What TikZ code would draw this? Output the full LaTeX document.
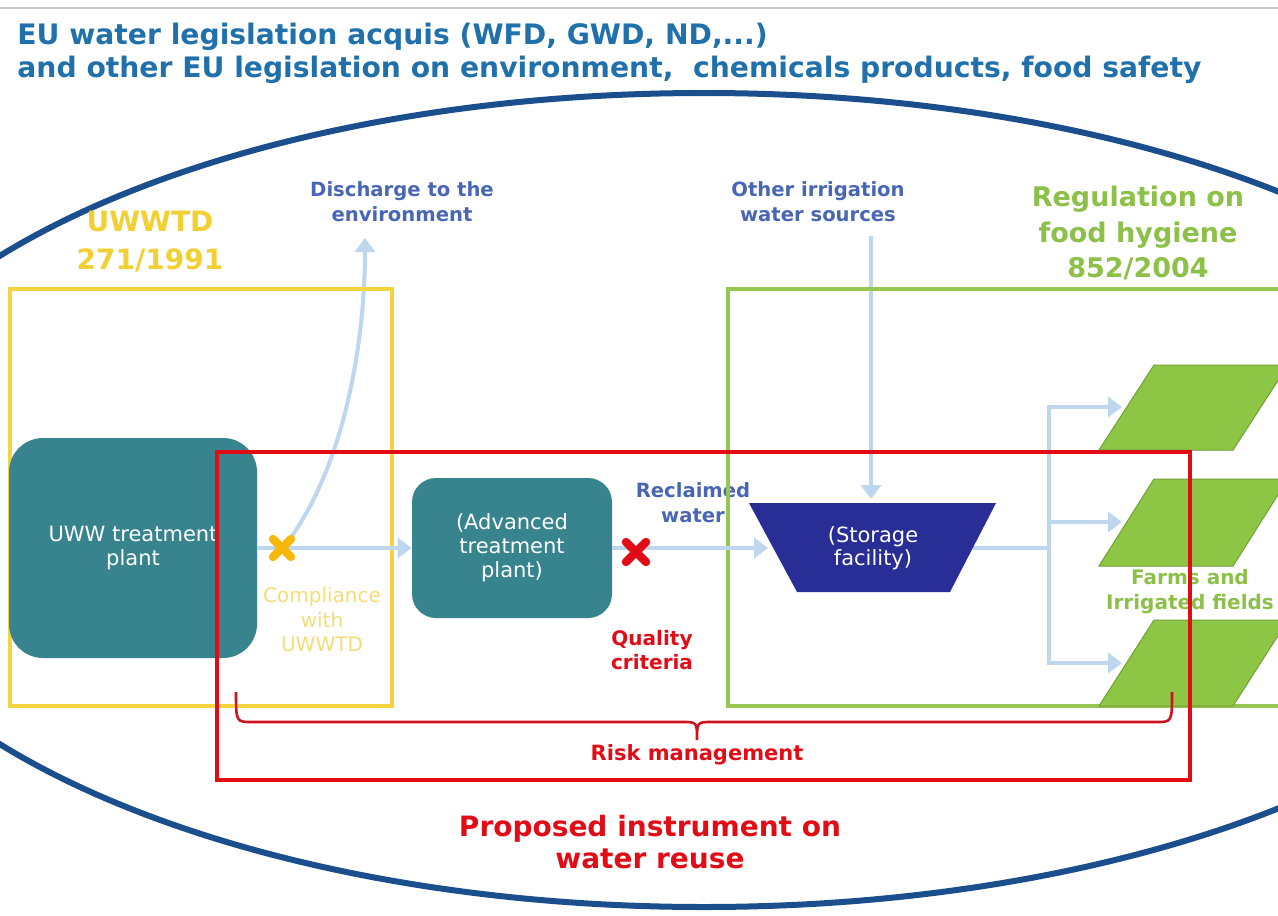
\documentclass[tikz,border=0pt]{standalone}
\usepackage{fontspec}
\setmainfont{DejaVu Sans}
\usetikzlibrary{arrows.meta}
\definecolor{ellblue}{RGB}{27,78,140}
\definecolor{titleblue}{RGB}{32,112,172}
\definecolor{lblblue}{RGB}{72,102,180}
\definecolor{uyellow}{RGB}{246,212,64}
\definecolor{ulabel}{RGB}{242,208,52}
\definecolor{cyellow}{RGB}{246,220,120}
\definecolor{xyellow}{RGB}{247,184,10}
\definecolor{rgreen}{RGB}{148,200,82}
\definecolor{glabel}{RGB}{140,192,72}
\definecolor{fgreen}{RGB}{140,198,68}
\definecolor{fedge}{RGB}{112,160,52}
\definecolor{rred}{RGB}{226,12,22}
\definecolor{bred}{RGB}{205,20,30}
\definecolor{teal1}{RGB}{56,132,142}
\definecolor{storblue}{RGB}{40,46,150}
\definecolor{flowblue}{RGB}{190,214,238}
\newcommand{\myfs}[2]{\fontsize{#1}{#2}\selectfont}
\begin{document}
\begin{tikzpicture}[x=0.5pt,y=-0.5pt,
  flow/.style={draw=flowblue, line width=2pt, -{Triangle[length=7pt,width=10pt]}},
  flowline/.style={draw=flowblue, line width=2pt},
  plantbox/.style={fill=teal1, text=white, align=center, font=\myfs{10.5}{12}, inner sep=0pt},
  bluelbl/.style={text=lblblue, align=center, font=\bfseries\myfs{9.8}{12.5}},
  redlbl/.style={text=rred, align=center, font=\bfseries\myfs{10}{12}},
  title/.style={text=titleblue, font=\bfseries\myfs{14.1}{16.5}, anchor=base west, inner sep=0pt},
  field/.style={fill=fgreen, draw=fedge, line width=0.5pt},
  xmark/.style={line width=4.2pt, line cap=round}
]
\useasboundingbox (0,0) rectangle (1278,915);
\fill[white] (0,0) rectangle (1278,915);
\draw[black!22, line width=0.8pt] (0,8) -- (1278,8);
\begin{scope}
  \clip (0,0) rectangle (1278,915);
  \draw[ellblue, line width=3pt] (704,500) ellipse [x radius=880, y radius=407];
\end{scope}

% titles
\node[title] (t1) at (17,45) {EU water legislation acquis (WFD, GWD, ND,...)};
\node[title] (t2) at (17,78) {and other EU legislation on environment,\ \ chemicals products, food safety};

% coordinates
\coordinate (xy) at (283,548);
\coordinate (disend) at (365,238);
\coordinate (storin) at (768,548);
\coordinate (othtop) at (871,236);
\coordinate (stortop) at (871,499);
\coordinate (storout) at (973,548);
\coordinate (br) at (1049,548);
\coordinate (f1in) at (1122,407);
\coordinate (f2in) at (1122,522);
\coordinate (f3in) at (1122,663);

% labels
\node[font=\bfseries\myfs{14}{19}, text=ulabel, align=center] (uwwtd) at (150,242) {UWWTD\\271/1991};
\node[font=\bfseries\myfs{13.5}{17.75}, text=glabel, align=center] (reg) at (1138,233) {Regulation on\\food hygiene\\852/2004};
\node[bluelbl] (dis) at (402,202) {Discharge to the\\environment};
\node[bluelbl] (oth) at (818,202) {Other irrigation\\water sources};
\node[bluelbl] (rec) at (693,503) {Reclaimed\\water};
\node[redlbl] (qual) at (652,650) {Quality\\criteria};
\node[text=cyellow, font=\myfs{10}{12.25}, align=center] (comp) at (322,620) {Compliance\\with\\UWWTD};

% flows
\draw[flow] (xy) .. controls (345,470) and (365,340) .. (disend);
\draw[flow] (othtop) -- (stortop);
\draw[flowline] (storout) -- (br);
\draw[flow] (br) |- (f1in);
\draw[flow] (br) |- (f3in);
\draw[flow] (br |- f2in) -- (f2in);

% regulation boxes
\draw[uyellow, line width=2pt] (10,289) rectangle (392,706);
\draw[rgreen, line width=2pt] (728,289) rectangle (1290,706);

% plants
\node[plantbox, minimum width=124pt, minimum height=110pt, rounded corners=17pt] (uww) at (133,548) {UWW treatment\\plant};
\node[plantbox, minimum width=100pt, minimum height=70pt, rounded corners=12pt] (adv) at (512,548) {(Advanced\\treatment\\plant)};
\draw[flow] (uww.east) -- (adv.west);
\draw[flow] (adv.east) -- (storin);

% storage
\fill[storblue] (749,503) -- (996,503) -- (950,592) -- (797,592) -- cycle;
\node[text=white, align=center, font=\myfs{10.5}{11.5}] (stor) at (873,548) {(Storage\\facility)};

% fields
\fill[field] (1099,450) -- (1233,450) -- (1288,365) -- (1154,365) -- cycle;
\fill[field] (1099,566) -- (1233,566) -- (1288,479) -- (1154,479) -- cycle;
\fill[field] (1099,706) -- (1233,706) -- (1288,620) -- (1154,620) -- cycle;
\node[text=glabel, font=\bfseries\myfs{10}{12.5}, align=center] (farms) at (1190,592) {Farms and\\Irrigated fields};

% proposed instrument
\draw[rred, line width=2pt] (217,452) rectangle (1190,780);
\draw[xyellow, xmark] (273,539) -- (291,557) (273,557) -- (291,539);
\draw[rred, xmark] (626,542) -- (646,562) (626,562) -- (646,542);
\draw[bred, line width=1.3pt] (236,692) .. controls (236,722) .. (252,722) -- (682,722) .. controls (697,722) .. (697,740)
  .. controls (697,722) .. (712,722) -- (1156,722) .. controls (1172,722) .. (1172,692);
\node[text=rred, font=\bfseries\myfs{10.5}{12}] (risk) at (697,755) {Risk management};
\node[text=rred, font=\bfseries\myfs{14}{16}, align=center] (prop) at (650,842) {Proposed instrument on\\water reuse};
\end{tikzpicture}
\end{document}
